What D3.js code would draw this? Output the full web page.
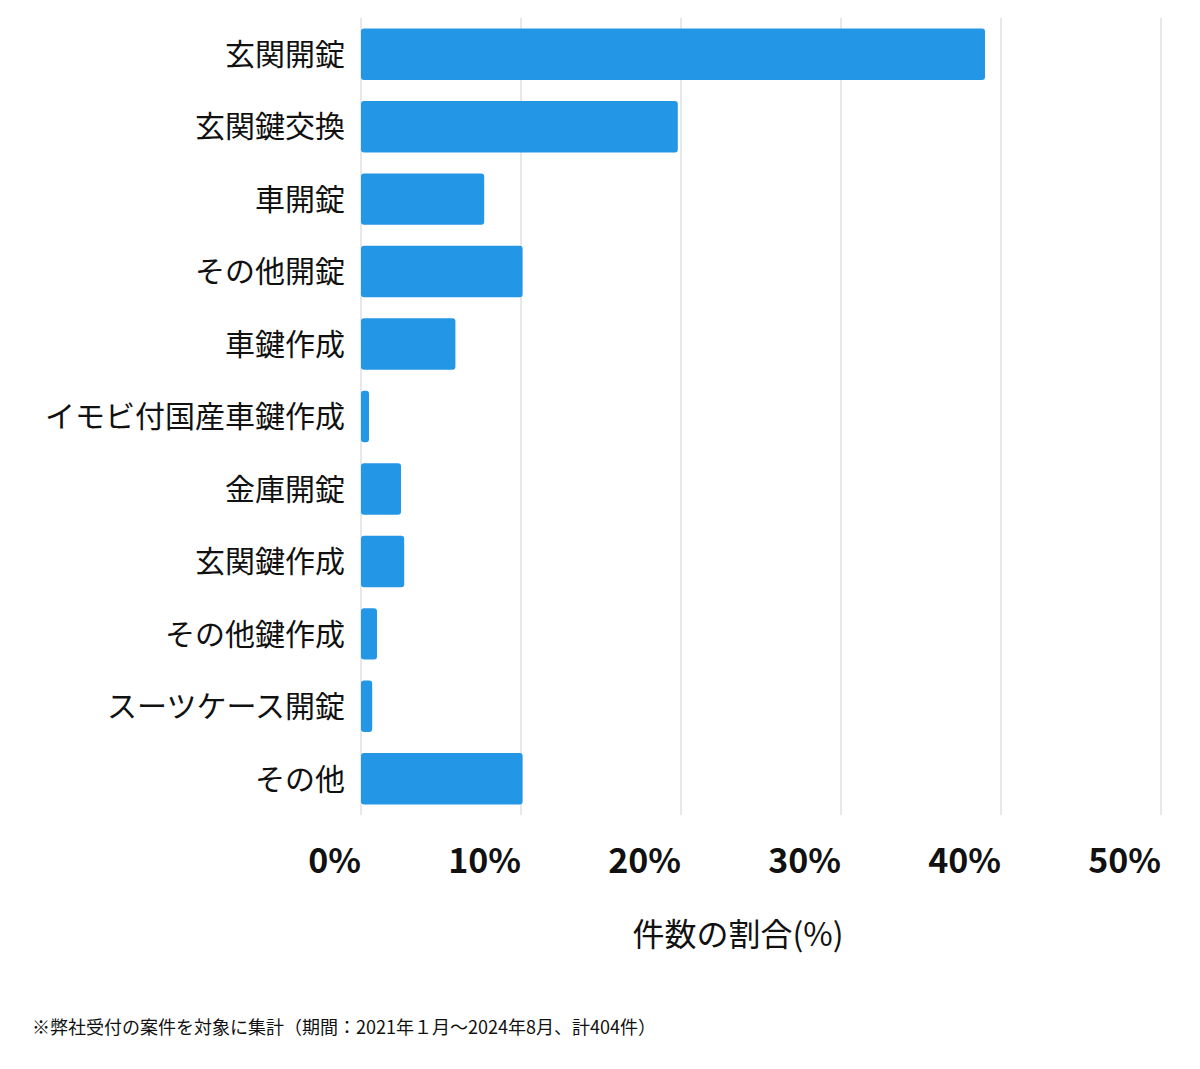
<!DOCTYPE html>
<html><head><meta charset="utf-8">
<script src="https://cdn.jsdelivr.net/npm/d3@7"></script>
<style>body{margin:0;background:#fff}text{font-family:"Noto Sans CJK JP","Noto Sans",sans-serif}</style>
</head><body><svg id="c" width="1200" height="1069"></svg>
<script>
const categories=["玄関開錠","玄関鍵交換","車開錠","その他開錠","車鍵作成","イモビ付国産車鍵作成","金庫開錠","玄関鍵作成","その他鍵作成","スーツケース開錠","その他"];
const values=[39.0,19.8,7.7,10.1,5.9,0.5,2.5,2.7,1.0,0.7,10.1];
const ticks=[0,10,20,30,40,50];
const tickLabels=["0%","10%","20%","30%","40%","50%"];
const svg=d3.select("#c");
const x=d3.scaleLinear().domain([0,50]).range([361,1161]);
const y=d3.scaleBand().domain(categories).range([18,815]).paddingInner(0.29).paddingOuter(0.145);
svg.selectAll("line.g").data(ticks).enter().append("line")
 .attr("x1",d=>x(d)).attr("x2",d=>x(d)).attr("y1",18).attr("y2",815)
 .attr("stroke","#d0d0d0").attr("stroke-width",1);
svg.selectAll("rect").data(values).enter().append("rect")
 .attr("x",x(0)).attr("y",(d,i)=>y(categories[i])).attr("width",d=>x(d)-x(0))
 .attr("height",y.bandwidth()).attr("rx",3).attr("fill","#2496e6");
svg.selectAll("text.c").data(categories).enter().append("text")
 .attr("x",345).attr("y",d=>y(d)+y.bandwidth()/2).attr("dy","0.36em")
 .attr("text-anchor","end").attr("font-size",30).attr("fill","#111").text(d=>d);
svg.selectAll("text.t").data(ticks).enter().append("text")
 .attr("x",d=>x(d)).attr("y",873).attr("text-anchor","end")
 .attr("font-size",34).attr("font-weight","bold").attr("fill","#111").text((d,i)=>tickLabels[i]);
svg.append("text").attr("x",738).attr("y",946).attr("text-anchor","middle")
 .attr("font-size",32).attr("fill","#111").text("件数の割合(%)");
svg.append("text").attr("x",32).attr("y",1034).attr("font-size",18).attr("fill","#111")
 .text("※弊社受付の案件を対象に集計（期間：2021年１月〜2024年8月、計404件）");
</script></body></html>
